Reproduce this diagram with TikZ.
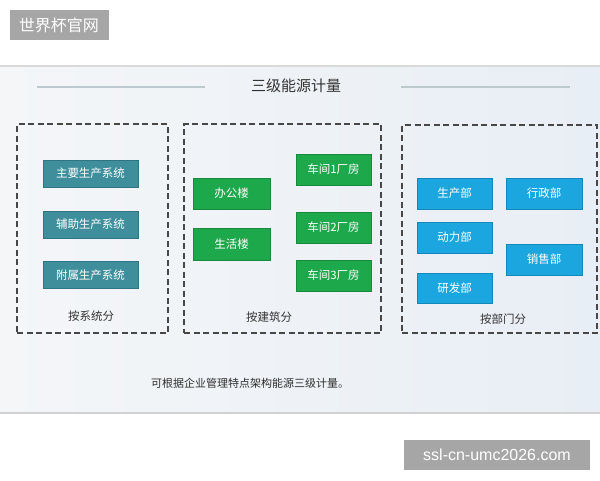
\documentclass[tikz,border=0pt]{standalone}
\usepackage{fontspec}
\setmainfont{Noto Sans CJK SC}
\setsansfont{Liberation Sans}
\begin{document}
\begin{tikzpicture}[x=1pt,y=-1pt,
  wm/.style={fill=black!35, text=white, inner sep=0pt, font=\fontsize{16}{16}\selectfont},
  grp/.style={draw=black!72, line width=1.4pt, dash pattern=on 6pt off 3.5pt, inner sep=0pt, minimum height=209pt},
  bx/.style={inner sep=0pt, line width=1pt, text=white, font=\fontsize{11.5}{12}\selectfont, minimum height=31pt},
  teal/.style={bx, fill=teal1, draw=teal2, minimum width=95pt, minimum height=27pt},
  grn/.style={bx, fill=grn1, draw=grn2},
  blu/.style={bx, fill=blu1, draw=blu2},
  lbl/.style={text=black!80, font=\fontsize{11.5}{12}\selectfont},
  rule/.style={draw=tline, line width=1.2pt}
]
\definecolor{teal1}{HTML}{3F8E9C}
\definecolor{teal2}{HTML}{2F7482}
\definecolor{grn1}{HTML}{1DA84C}
\definecolor{grn2}{HTML}{178A3D}
\definecolor{blu1}{HTML}{1BA6E0}
\definecolor{blu2}{HTML}{1587BB}
\definecolor{tline}{HTML}{BCCACE}
\definecolor{pleft}{HTML}{F4F6F8}
\definecolor{pright}{HTML}{E8EEF5}
\useasboundingbox (0,0) rectangle (600,480);
\fill[white] (0,0) rectangle (600,480);
% panel
\shade[left color=pleft, right color=pright] (0,66) rectangle (600,413);
\draw[draw=black!15, line width=1.5pt] (0,66) -- (600,66);
\draw[draw=black!18, line width=1.5pt] (0,413) -- (600,413);
% watermarks
\node[wm, minimum width=99pt, minimum height=30pt] (wm1) at (59,25) {世界杯官网};
\node[wm, minimum width=186pt, minimum height=30pt, font=\sffamily\fontsize{16}{16}\selectfont] (wm2) at (497,455) {ssl-cn-umc2026.com};
% title
\node[text=black!80, font=\fontsize{15}{15}\selectfont] (title) at (296,86) {三级能源计量};
\coordinate (l1) at (37,87); \coordinate (l2) at (205,87);
\coordinate (r1) at (401,87); \coordinate (r2) at (570,87);
\draw[rule] (l1) -- (l2);
\draw[rule] (r1) -- (r2);
% groups
\node[grp, minimum width=151pt] (g1) at (92.5,228.5) {};
\node[grp, minimum width=197pt] (g2) at (282.5,228.5) {};
\node[grp, minimum width=195pt, minimum height=208pt] (g3) at (499.5,229) {};
% group 1
\node[teal] (s1) at (90.5,173.5) {主要生产系统};
\node[teal] (s2) at (90.5,224.5) {辅助生产系统};
\node[teal] (s3) at (90.5,275) {附属生产系统};
\node[lbl] (t1) at (91,316) {按系统分};
% group 2
\node[grn, minimum width=77pt] (b1) at (231.5,193.5) {办公楼};
\node[grn, minimum width=77pt, minimum height=32pt] (b2) at (231.5,244) {生活楼};
\node[grn, minimum width=75pt] (c1) at (333.5,169.5) {车间1厂房};
\node[grn, minimum width=75pt] (c2) at (333.5,227.5) {车间2厂房};
\node[grn, minimum width=75pt] (c3) at (333.5,275.5) {车间3厂房};
\node[lbl] (t2) at (269,317) {按建筑分};
% group 3
\node[blu, minimum width=75pt] (d1) at (454.5,193.5) {生产部};
\node[blu, minimum width=75pt] (d2) at (454.5,237.5) {动力部};
\node[blu, minimum width=75pt, minimum height=30pt] (d3) at (454.5,288) {研发部};
\node[blu, minimum width=76pt] (d4) at (544,193.5) {行政部};
\node[blu, minimum width=76pt] (d5) at (544,259.5) {销售部};
\node[lbl] (t3) at (503,319) {按部门分};
% footer
\node[text=black!82, font=\fontsize{11}{11}\selectfont] (foot) at (250,383) {可根据企业管理特点架构能源三级计量。};
\end{tikzpicture}
\end{document}
